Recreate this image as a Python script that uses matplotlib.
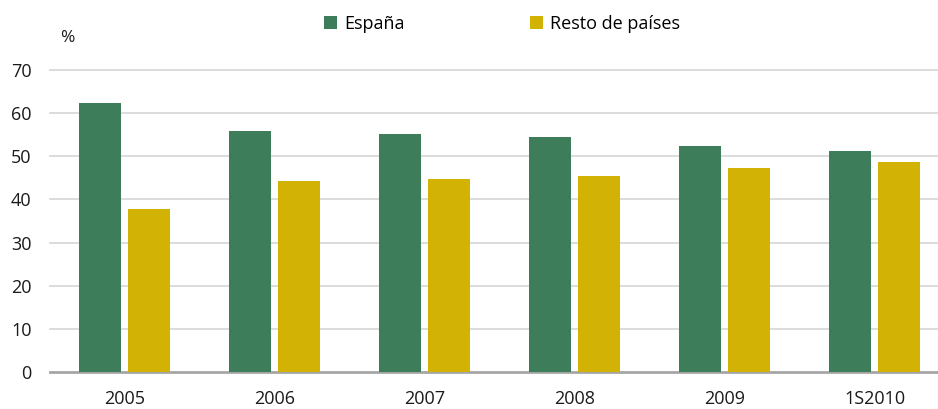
import numpy as np
import matplotlib.pyplot as plt

# datos
categorias = ["2005", "2006", "2007", "2008", "2009", "1S2010"]
espana = [62.4, 55.9, 55.2, 54.5, 52.5, 51.3]
resto = [37.7, 44.2, 44.7, 45.5, 47.3, 48.7]

verde = "#3e7d5a"
amarillo = "#d3b206"

plt.rcParams['font.family'] = ['Open Sans', 'DejaVu Sans']

fig = plt.figure(figsize=(9.38, 4.09), dpi=100)
# el eje se extiende un poco más allá del borde derecho
ax = fig.add_axes([49.5 / 938, 37 / 409, 900 / 938, (372 - 70) / 409])

x = np.arange(len(categorias))
w = 0.28
ax.bar(x - 0.164, espana, w, color=verde, label="España", zorder=3)
ax.bar(x + 0.164, resto, w, color=amarillo, label="Resto de países", zorder=3)

ax.set_xlim(-0.5, len(categorias) - 0.5)
ax.set_ylim(0, 70)
ax.set_yticks(range(0, 71, 10))
ax.set_xticks(x)
ax.set_xticklabels(categorias)

for y in range(10, 71, 10):
    ax.axhline(y, color="#d9d9d9", lw=1.3, zorder=1, clip_on=False)

for s in ["top", "right", "left"]:
    ax.spines[s].set_visible(False)
ax.spines["bottom"].set_color("#a6a6a6")
ax.spines["bottom"].set_linewidth(2)
ax.tick_params(axis="both", length=0, labelsize=13, colors="#1a1a1a")
ax.tick_params(axis="y", pad=13)
ax.tick_params(axis="x", pad=13)

fig.text(60 / 938, 1 - 38 / 409, "%", fontsize=12.5, ha="left", va="center", color="#1a1a1a")

leg = fig.legend(loc="center", bbox_to_anchor=(502 / 938, 1 - 24 / 409), ncol=2,
                 frameon=False, fontsize=13, handlelength=0.75, handleheight=0.75,
                 handletextpad=0.4, columnspacing=6.9)

fig.savefig("out.png", dpi=100)
